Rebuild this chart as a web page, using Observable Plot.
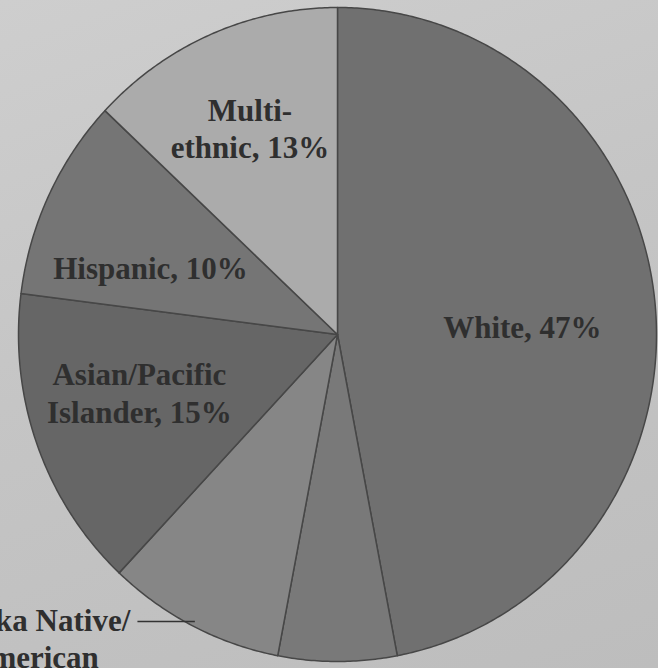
<!DOCTYPE html>
<html>
<head>
<meta charset="utf-8">
<script src="https://cdn.jsdelivr.net/npm/d3@7"></script>
<script src="https://cdn.jsdelivr.net/npm/@observablehq/plot@0.6"></script>
<style>
html, body { margin: 0; padding: 0; overflow: hidden; width: 658px; height: 668px; }
body { background: linear-gradient(160deg, #cecece 0%, #c5c5c5 45%, #bdbdbd 100%); }
#chart svg { display: block; overflow: hidden; }
</style>
</head>
<body>
<div id="chart"></div>
<script>
// Data
const categories = ["White", "Black/African American", "Alaska Native/American Indian", "Asian/Pacific Islander", "Hispanic", "Multi-ethnic"];
const shares = [47, 6, 9, 15, 10, 13];
const labelTexts = ["White, 47%", "", "Alaska Native/\nAmerican\nIndian, 9%", "Asian/Pacific\nIslander, 15%", "Hispanic, 10%", "Multi-\nethnic, 13%"];
const sliceFills = ["#707070", "#797979", "#868686", "#666666", "#757575", "#ababab"];

// Pie geometry (angles clockwise from 12 o'clock)
const arcs = d3.pie().sort(null).value(d => d)(shares);
const step = Math.PI / 360;
const sliceRows = [];
arcs.forEach((a, i) => {
  const cat = categories[i];
  sliceRows.push({cat, x: 0, y: 0});
  const angles = d3.range(a.startAngle, a.endAngle, step).concat([a.endAngle]);
  for (const t of angles) sliceRows.push({cat, x: Math.sin(t), y: Math.cos(t)});
  sliceRows.push({cat, x: 0, y: 0});
});

const labelRadius = 0.62;
const labelRows = arcs.map((a, i) => {
  const mid = (a.startAngle + a.endAngle) / 2;
  return {cat: categories[i], text: labelTexts[i], mid, x: labelRadius * Math.sin(mid), y: labelRadius * Math.cos(mid)};
});

const font = {fontFamily: "'Liberation Serif', 'Times New Roman', serif", fontWeight: "bold", fontSize: 31, fill: "#2f2f2f", lineHeight: 1.2};

function inside(cat, dx, dy) {
  return Plot.text(labelRows.filter(d => d.cat === cat), {x: "x", y: "y", text: "text", dx, dy, textAnchor: "middle", lineAnchor: "middle", ...font});
}

// outside label with leader line
const ak = labelRows.filter(d => d.cat === "Alaska Native/American Indian").map(d => {
  const r = 0.985;
  const x1 = r * Math.sin(d.mid), y1 = r * Math.cos(d.mid);
  return {...d, x1, y1, x2: x1 - 0.18, y2: y1};
});

const chart = Plot.plot({
  width: 658,
  height: 668,
  margin: 0,
  style: {background: "transparent", overflow: "hidden"},
  x: {domain: [-337 / 319, 321 / 319], axis: null},
  y: {domain: [-334 / 327, 334 / 327], axis: null},
  color: {domain: categories, range: sliceFills},
  marks: [
    Plot.line(sliceRows, {x: "x", y: "y", z: "cat", fill: "cat", stroke: "#474747", strokeWidth: 1.5, strokeLinejoin: "round", curve: "linear"}),
    inside("White", -12, 11),
    inside("Multi-ethnic", -9, -21),
    inside("Hispanic", -8, 19),
    inside("Asian/Pacific Islander", -12, -11),
    Plot.link(ak, {x1: "x1", y1: "y1", x2: "x2", y2: "y2", stroke: "#333333", strokeWidth: 1.5}),
    Plot.text(ak, {x: "x2", y: "y2", text: "text", dx: -104, dy: -17, textAnchor: "middle", lineAnchor: "top", ...font})
  ]
});
document.getElementById("chart").appendChild(chart);
</script>
</body>
</html>
